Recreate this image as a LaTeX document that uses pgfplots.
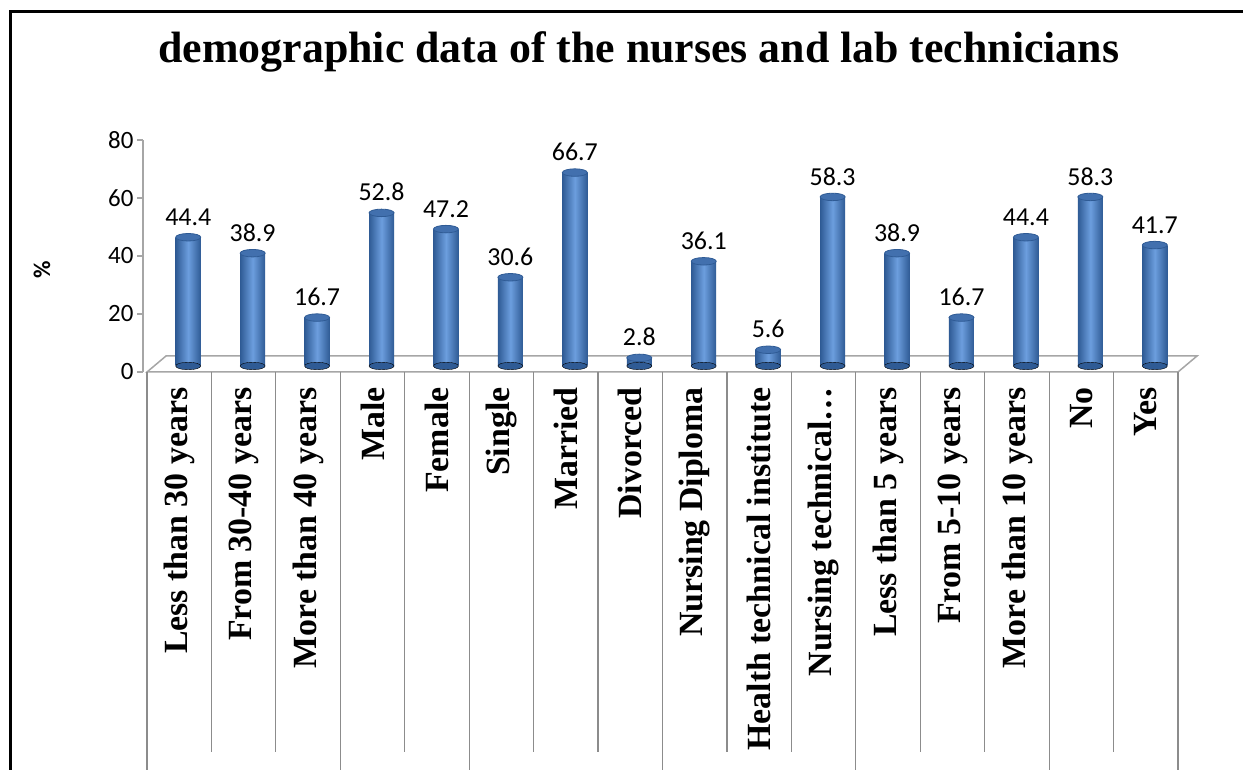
\documentclass[border=0pt]{standalone}
\usepackage{fontspec}
\setmainfont{Liberation Serif}
\newfontfamily\calibri{Carlito}
\usepackage{pgfplots}
\usepackage{pgfplotstable}
\pgfplotsset{compat=1.18}
\pgfdeclarelayer{bg}
\pgfsetlayers{bg,main}
\definecolor{barmid}{HTML}{6C9EDE}
\definecolor{baredge}{HTML}{2F5B95}
\definecolor{bartop}{HTML}{4270AE}
\definecolor{axisgray}{HTML}{A6A6A6}
\definecolor{sepgray}{HTML}{8C8C8C}

\pgfplotstableread{
x y
0 44.4
1 38.9
2 16.7
3 52.8
4 47.2
5 30.6
6 66.7
7 2.8
8 36.1
9 5.6
10 58.3
11 38.9
12 16.7
13 44.4
14 58.3
15 41.7
}\datatable

\pgfplotstableread{
x y
0 0
1 0
2 0
3 0
4 0
5 0
6 0
7 0
8 0
9 0
10 0
11 0
12 0
13 0
14 0
15 0
}\basetable

\begin{document}
\begin{tikzpicture}[x=1bp,y=1bp]
\begin{axis}[
  scale only axis, width=1035bp, height=232bp,
  xmin=-0.562, xmax=15.5, ymin=0, ymax=80,
  axis lines*=left,
  x axis line style={draw=none},
  y axis line style={axisgray, line width=1.5bp},
  ytick={0,20,40,60,80},
  tick align=outside,
  major tick length=6bp,
  ytick style={axisgray, line width=1.5bp},
  xtick={0,...,15},
  major x tick style={draw=none},
  xticklabels={Less than 30 years, From 30-40 years, More than 40 years, Male, Female, Single, Married, Divorced, Nursing Diploma, Health technical institute, Nursing technical…, Less than 5 years, From 5-10 years, More than 10 years, No, Yes},
  x tick label style={rotate=90, anchor=east, font=\bfseries\fontsize{34}{34}\selectfont},
  xticklabel shift=6bp,
  y tick label style={font=\calibri\fontsize{25}{25}\selectfont, /pgf/number format/assume math mode=true},
  clip=false,
]
\addplot[only marks, mark=*, mark size=12.5bp, xshift=9bp, yshift=6bp,
  mark options={yscale=0.3, draw=none, fill=baredge}] table[x=x,y=y] {\basetable};
\pgfplotsinvokeforeach{0,...,15}{
\addplot[ybar, bar width=25bp, bar shift=0pt, xshift=9bp, yshift=6bp, draw=none,
  left color=baredge, right color=baredge, middle color=barmid,
  restrict x to domain=#1:#1] table[x=x,y=y] {\datatable};
}
\addplot[only marks, mark=*, mark size=12.5bp, xshift=9bp, yshift=6bp,
  mark options={yscale=0.3, fill=bartop, draw=baredge, line width=0.8bp},
  nodes near coords,
  nodes near coords style={font=\calibri\fontsize{26}{26}\selectfont, text=black, anchor=south, yshift=8bp, /pgf/number format/assume math mode=true}] table[x=x,y=y] {\datatable};
\coordinate (O) at (rel axis cs:0,0);
\end{axis}
\begin{scope}[shift={(O)}, xshift=-143bp, yshift=-398bp]
\begin{pgfonlayer}{bg}
\path[fill=white] (0,0) rectangle (1243,770);
\draw[axisgray, line width=1.5bp] (147,398) -- (1178,398) -- (1197,414) -- (166,414) -- cycle;
\foreach \k in {0,...,16}{
  \pgfmathsetmacro{\xx}{147+64.4375*\k}
  \draw[sepgray, line width=1.2bp] (\xx,398) -- (\xx,18);
}
\foreach \k in {0,3,5,8,11,14,16}{
  \pgfmathsetmacro{\xx}{147+64.4375*\k}
  \draw[sepgray, line width=1.2bp] (\xx,18) -- (\xx,0);
}
\end{pgfonlayer}
\draw[line width=3bp] (11,0) -- (11,758) -- (1243,758);
\node[font=\bfseries\fontsize{44}{50}\selectfont] at (639,718) {demographic data of the nurses and lab technicians};
\node[rotate=90, font=\calibri\bfseries\fontsize{24}{24}\selectfont] at (42,500) {\%};
\pgfresetboundingbox
\path[use as bounding box] (0,0) rectangle (1243,770);
\end{scope}
\end{tikzpicture}
\end{document}
